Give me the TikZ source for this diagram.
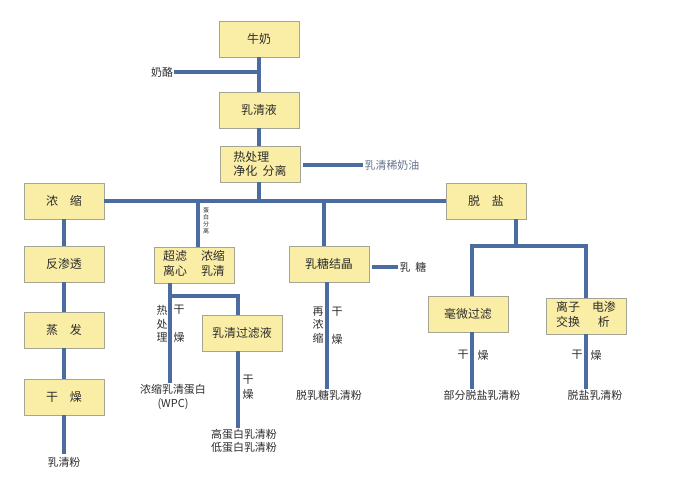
\documentclass[tikz,border=0pt]{standalone}
\usepackage{fontspec}
\setmainfont{Noto Sans CJK SC}
\usetikzlibrary{shadows}
\definecolor{boxfill}{RGB}{250,237,165}
\definecolor{boxline}{RGB}{165,165,150}
\definecolor{flowblue}{RGB}{74,108,158}
\definecolor{txtgray}{RGB}{45,45,45}
\definecolor{creamtxt}{RGB}{100,115,140}
\tikzset{
    rqbox/.style={draw=boxline, fill=boxfill, minimum width=80bp, minimum height=36bp, inner sep=1bp,
        font=\fontsize{12}{14}\selectfont, text=txtgray,
        drop shadow={shadow xshift=1.2bp, shadow yshift=-1.2bp, opacity=0.45, fill=gray}},
    rqline/.style={draw=flowblue, line width=4.5bp},
    rqtext/.style={font=\fontsize{11}{13.5}\selectfont, text=txtgray, inner sep=1bp}
}

\begin{document}
\begin{tikzpicture}[x=1bp, y=-1bp]
    \useasboundingbox (0,0) rectangle (676,488);

    \node[rqbox] (niunai) at (259,39) {牛奶};
    \node[rqbox] (ruqingye) at (259,110) {乳清液};
    \node[rqbox, align=left] (rechuli) at (260,164) {热处理\\净化\ \ 分离};
    \node[rqtext] (nailao) at (162,72) {奶酪};
    \node[rqtext, text=creamtxt] (xinaiyou) at (392,165) {乳清稀奶油};

    \node[rqbox] (nongsuo) at (64,201) {浓\quad 缩};
    \node[rqbox] (fanshentou) at (64,264) {反渗透};
    \node[rqbox] (zhengfa) at (64,330) {蒸\quad 发};
    \node[rqbox] (ganzao) at (64,397) {干\quad 燥};
    \node[rqtext] (ruqingfen) at (64,462) {乳清粉};

    \node[rqbox] (chaolv) at (194,265) {\begin{tabular}{@{}l@{\hspace{14bp}}l@{}}超滤 & 浓缩\\ 离心 & 乳清\end{tabular}};
    \node[rqbox] (guolvye) at (242,333) {乳清过滤液};
    \node[rqbox] (rutang) at (329,264) {乳糖结晶};
    \node[rqtext] (tang) at (413,267) {乳\ \ 糖};
    \node[rqbox] (tuoyan) at (486,201) {脱\quad 盐};
    \node[rqbox] (haowei) at (468,314) {毫微过滤};
    \node[rqbox] (lizi) at (586,316) {\begin{tabular}{@{}c@{\hspace{12bp}}c@{}}离子 & 电渗\\ 交换 & 析\end{tabular}};

    \node[rqtext, align=center] (wpc) at (173,397) {浓缩乳清蛋白\\(WPC)};
    \node[rqtext, align=center] (gaodanbai) at (244,441) {高蛋白乳清粉\\低蛋白乳清粉};
    \node[rqtext] (tuorutang) at (329,395) {脱乳糖乳清粉};
    \node[rqtext] (bufen) at (482,395) {部分脱盐乳清粉};
    \node[rqtext] (tuoyanfen) at (595,395) {脱盐乳清粉};

    \node[rqtext, font=\fontsize{6}{7.2}\selectfont, align=center] (danbai) at (206,221) {蛋\\白\\分\\离};
    \node[rqtext, align=center] (rechuli2) at (162,324) {热\\处\\理};
    \node[rqtext] (gan1) at (179,310) {干};
    \node[rqtext] (zao1) at (179,337) {燥};
    \node[rqtext] (gan2) at (248,380) {干};
    \node[rqtext] (zao2) at (248,394) {燥};
    \node[rqtext, align=center] (zainongsuo) at (318,325) {再\\浓\\缩};
    \node[rqtext] (gan3) at (337,312) {干};
    \node[rqtext] (zao3) at (337,339) {燥};
    \node[rqtext] (gan4) at (463,355) {干};
    \node[rqtext] (zao4) at (483,355) {燥};
    \node[rqtext] (gan5) at (577,355) {干};
    \node[rqtext] (zao5) at (596,355) {燥};

    \coordinate (fork) at (516,246);
    \coordinate (chaofork) at (170,296);

    \draw[rqline] (niunai.south) -- (niunai.south |- ruqingye.north);
    \draw[rqline] (nailao.east) -- (nailao.east -| niunai.south);
    \draw[rqline] (ruqingye.south) -- (ruqingye.south |- rechuli.north);
    \draw[rqline, shorten <=3bp] (rechuli.east |- xinaiyou.west) -- (xinaiyou.west);
    \draw[rqline] (nongsuo.east) -- (tuoyan.west);
    \draw[rqline] (ruqingye.south |- rechuli.south) -- (ruqingye.south |- nongsuo.east);
    \draw[rqline] ([xshift=4bp]chaolv.north) -- ([xshift=4bp]chaolv.north |- nongsuo.east);
    \draw[rqline] ([xshift=-5bp]rutang.north) -- ([xshift=-5bp]rutang.north |- nongsuo.east);

    \draw[rqline] (nongsuo) -- (fanshentou);
    \draw[rqline] (fanshentou) -- (zhengfa);
    \draw[rqline] (zhengfa) -- (ganzao);
    \draw[rqline, shorten >=2bp] (ganzao) -- (ruqingfen);

    \draw[rqline] (chaolv.south -| chaofork) -- (chaofork |- wpc.north);
    \draw[rqline] (chaofork) -| ([xshift=-4bp]guolvye.north);
    \draw[rqline] ([xshift=-4bp]guolvye.south) -- ([xshift=-4bp]guolvye.south |- gaodanbai.north);

    \draw[rqline] ([xshift=-2bp]rutang.south) -- ([xshift=-2bp]rutang.south |- tuorutang.north);
    \draw[rqline, shorten <=3bp] (rutang.east |- tang.west) -- (tang.west);

    \draw[rqline] (tuoyan.south -| fork) -- (fork);
    \draw[rqline] ([xshift=4bp]haowei.north) -- ([xshift=4bp]haowei.north |- fork) -- (lizi.north |- fork) -- (lizi.north);
    \draw[rqline] ([xshift=4bp]haowei.south) -- ([xshift=4bp]haowei.south |- bufen.north);
    \draw[rqline] (lizi.south) -- (lizi.south |- tuoyanfen.north);
\end{tikzpicture}
\end{document}
